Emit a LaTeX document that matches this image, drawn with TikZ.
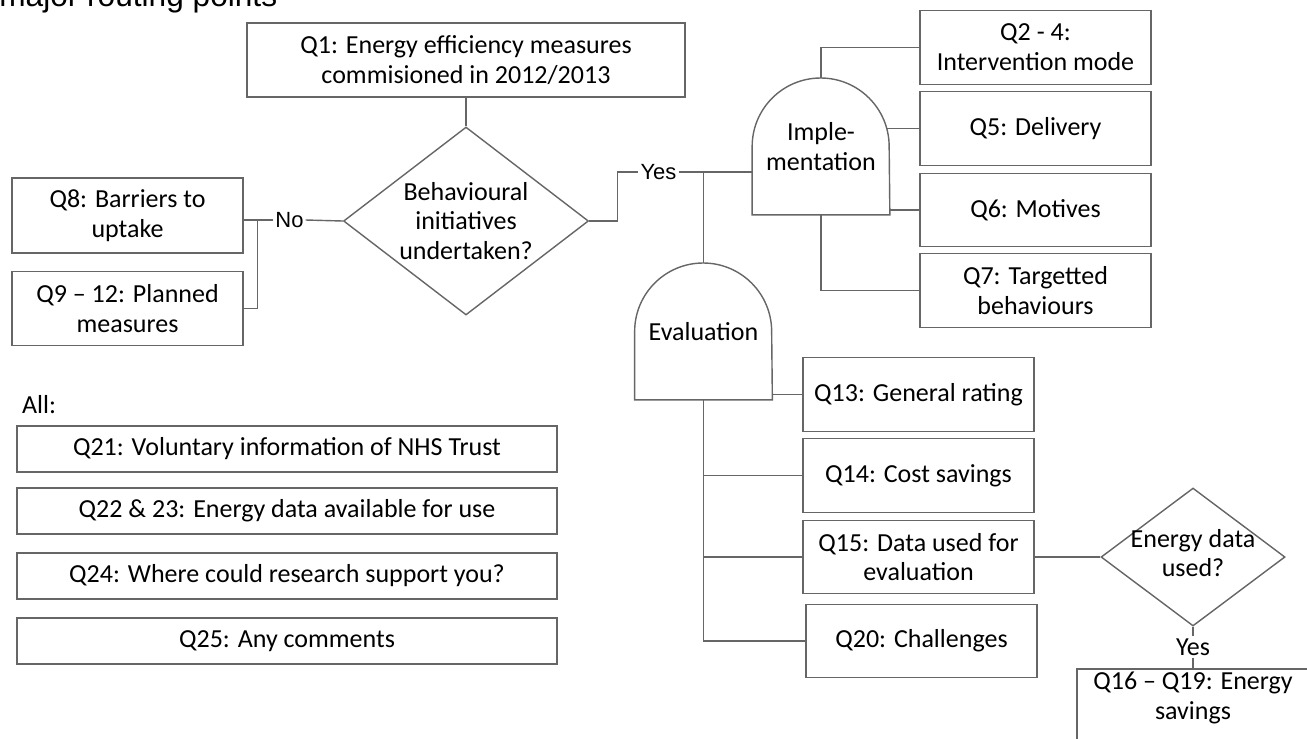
\documentclass[tikz,border=0pt]{standalone}
\usepackage{fontspec}
\setmainfont{Carlito}
\newfontfamily\arialfont{Liberation Sans}
\usetikzlibrary{shapes.geometric}

\begin{document}
\begin{tikzpicture}[x=0.2mm, y=-0.2mm,
  ln/.style={draw=black!60, line width=0.8pt},
  qtext/.style={inner sep=1pt, align=center, text=black, font=\fontsize{14.8}{17}\selectfont},
  qbox/.style={qtext, ln, rectangle, inner sep=0pt, minimum width=46.2mm, minimum height=14.7mm},
  wide/.style={qbox, minimum width=108mm, minimum height=9.2mm},
  dome/.style={qtext, inner sep=0pt, minimum width=27.4mm, minimum height=27.2mm},
  decide/.style={ln, diamond, inner sep=0pt},
  lbl/.style={inner sep=1pt, text=black, font=\arialfont\fontsize{12.5}{15}\selectfont}]
\useasboundingbox (0,0) rectangle (1307,738);
\clip (0,0) rectangle (1307,738);

\node[anchor=base west, inner sep=0pt, text=black, font=\arialfont\fontsize{18}{20}\selectfont] (title) at (-1,6) {major routing points};

% decision on behavioural initiatives
\node[qbox, minimum width=87.6mm, minimum height=14.8mm] (q1) at (466,60) {Q1: Energy efficiency measures\\commisioned in 2012/2013};
\node[decide, minimum width=49mm, minimum height=37.6mm] (beh) at (466,221) {};
\node[qtext] (behtxt) at (beh) {Behavioural\\initiatives\\undertaken?};
\node[lbl] (no) at (289.5,220) {No};
\node[qbox, minimum height=15mm] (q8) at (127.5,215.5) {Q8: Barriers to\\uptake};
\node[qbox] (q9) at (127.5,308.5) {Q9 – 12: Planned\\measures};
\node[lbl] (yes) at (658.5,172) {Yes};

% implementation
\node[dome] (impl) at (821,146.5) {Imple-\\mentation};
\foreach \n/\y/\t in {q2/47.5/{Q2 - 4:\\Intervention mode}, q5/128.5/{Q5: Delivery}, q6/210/{Q6: Motives}, q7/290.5/{Q7: Targetted\\behaviours}}
  \node[qbox] (\n) at (1035.5,\y) {\t};

% evaluation
\node[dome] (eval) at (703.5,331.5) {Evaluation};
\foreach \n/\x/\y/\t in {q13/918.5/394.5/{Q13: General rating}, q14/918.5/475.5/{Q14: Cost savings}, q15/918.5/557/{Q15: Data used for\\evaluation}, q20/921.5/641/{Q20: Challenges}}
  \node[qbox] (\n) at (\x,\y) {\t};
\node[decide, minimum width=36.8mm, minimum height=27.6mm] (edata) at (1193,557) {};
\node[qtext] (edatatxt) at (1193,553) {Energy data\\used?};
\node[qtext] (yes2) at (1193,647) {Yes};
\node[qbox, minimum width=46.4mm, minimum height=15.2mm] (q16) at (1193,707) {};
\node[qtext] (q16txt) at (1193,698) {Q16 – Q19: Energy\\savings};

% all
\node[qtext, anchor=west] (all) at (20,405) {All:};
\foreach \n/\y/\t in {q21/449/{Q21: Voluntary information of NHS Trust}, q22/511/{Q22 \& 23: Energy data available for use}, q24/576/{Q24: Where could research support you?}, q25/641/{Q25: Any comments}}
  \node[wide] (\n) at (287,\y) {\t};

% connectors
\draw[ln] (q1.south) -- (beh.north);
\draw[ln] (beh.west) -- (no.east);
\draw[ln] (no.west) -- (q8.east |- no.west);
\draw[ln] (q9.east) -| ([xshift=2.8mm]q8.east |- no.west);
\draw[ln] (beh.east) -- ++(28,0) |- (yes.west);
\draw[ln] (yes.east) -- (yes.east -| impl.west);
\draw[ln] (eval.north) |- (yes.east);
\draw[ln] (impl.north) |- (q2.west);
\draw[ln] ([xshift=-0.5mm]impl.east |- q5.west) -- (q5.west);
\draw[ln] (impl.east |- q6.west) -- (q6.west);
\draw[ln] (impl.south) |- (q7.west);
\foreach \d in {impl,eval}
  \draw[ln] (\d.south west) -- (\d.west) arc[start angle=180, end angle=0, radius=13.7mm] -- (\d.south east) -- cycle;
\draw[ln] (eval.east |- q13.west) -- (q13.west);
\draw[ln] (eval.south) |- (q20.west);
\foreach \n in {q14,q15}
  \draw[ln] (eval.south |- \n.west) -- (\n.west);
\draw[ln] (q15.east) -- (edata.west);
\draw[ln] (edata.south) -- (yes2.north);
\draw[ln] (yes2.south) -- (q16.north);
\end{tikzpicture}
\end{document}
